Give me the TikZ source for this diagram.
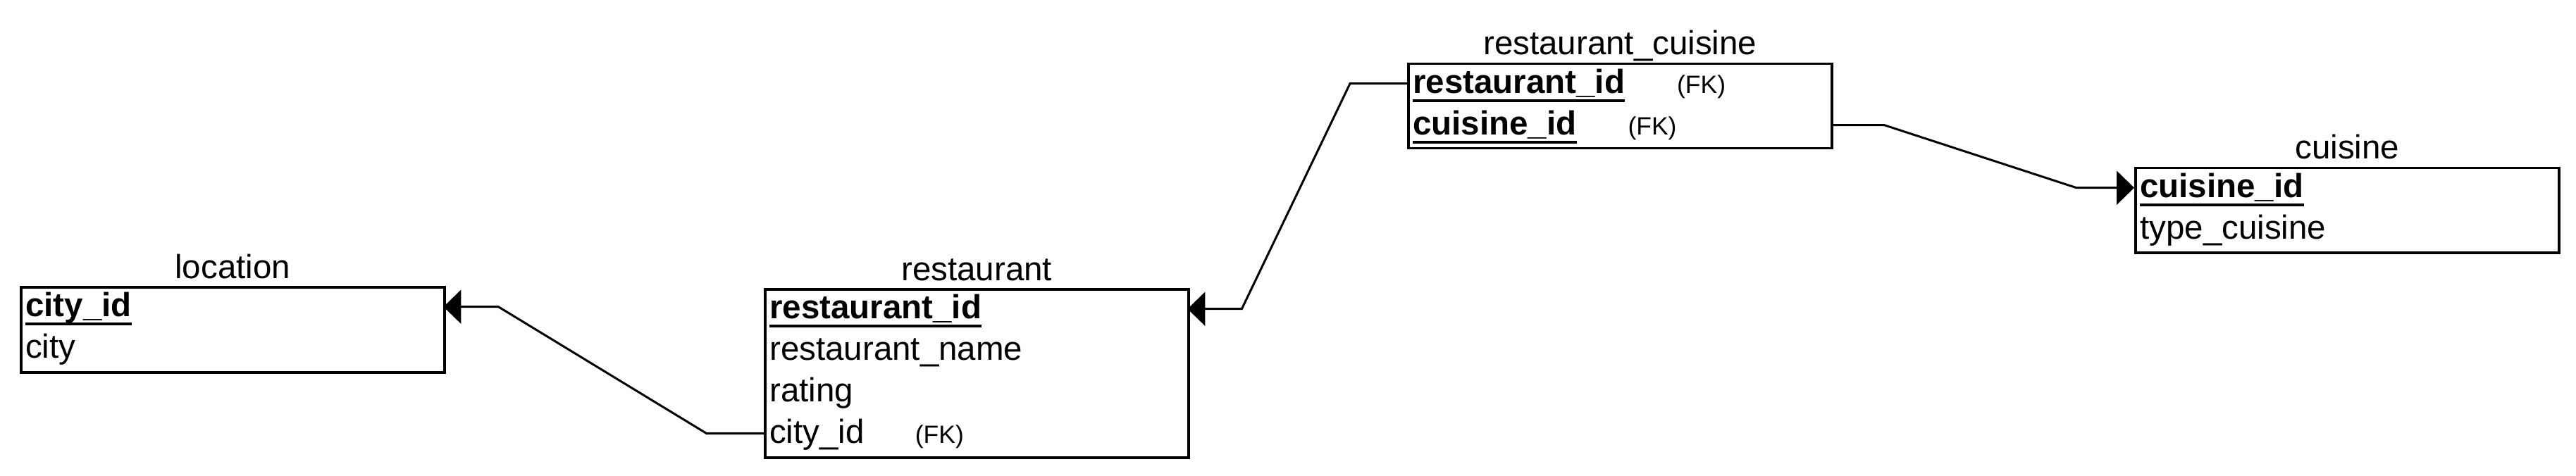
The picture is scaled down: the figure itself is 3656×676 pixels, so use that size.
\documentclass[tikz,border=0pt]{standalone}
\usepackage{fontspec}
\setmainfont{Liberation Sans}
\usetikzlibrary{arrows.meta,calc}
\newsavebox\pkbox
\newcommand\pkey[1]{\sbox\pkbox{\bfseries #1}\rlap{\usebox\pkbox}\rule[-12pt]{\wd\pkbox}{4pt}}
\newcommand\fkmark{{\fontsize{35.5}{40}\selectfont (FK)}}
\begin{document}
\begin{tikzpicture}[x=1pt,y=-1pt,
  tbl/.style={draw, line width=3.5pt, minimum width=601pt, inner sep=0pt, anchor=north west},
  fld/.style={inner xsep=8pt, inner ysep=0pt, text width=585pt, text height=43.5pt, text depth=15.5pt, align=left, anchor=north west, font=\fontsize{47.5}{57}\selectfont},
  ttl/.style={anchor=base, yshift=11pt, inner sep=0pt, font=\fontsize{47.5}{57}\selectfont},
  conn/.style={line width=3pt, -{Triangle[length=25pt,width=48pt]}}]
\useasboundingbox (0,0) rectangle (3656,676);
% location
\node[tbl, minimum height=121pt] (loc) at (28,406) {};
\node[ttl] (loc-t) at (loc.north) {location};
\node[fld] (loc-r1) at (28,406) {\pkey{city\_id}};
\node[fld] (loc-r2) at (28,465) {city};
% restaurant
\node[tbl, minimum height=239pt] (res) at (1084,409) {};
\node[ttl] (res-t) at (res.north) {restaurant};
\node[fld] (res-r1) at (1084,409) {\pkey{restaurant\_id}};
\node[fld] (res-r2) at (1084,468) {restaurant\_name};
\node[fld] (res-r3) at (1084,527) {rating};
\node[fld] (res-r4) at (1084,586) {city\_id\hspace{72pt}\fkmark};
% restaurant_cuisine
\node[tbl, minimum height=120pt] (rc) at (1997,89) {};
\node[ttl] (rc-t) at (rc.north) {restaurant\_cuisine};
\node[fld] (rc-r1) at (1997,89) {\pkey{restaurant\_id}\hspace{74pt}\fkmark};
\node[fld] (rc-r2) at (1997,148) {\pkey{cuisine\_id}\hspace{73pt}\fkmark};
% cuisine
\node[tbl, minimum height=120pt] (cui) at (3029,237) {};
\node[ttl] (cui-t) at (cui.north) {cuisine};
\node[fld] (cui-r1) at (3029,237) {\pkey{cuisine\_id}};
\node[fld] (cui-r2) at (3029,296) {type\_cuisine};
% connectors
\draw[conn] (res-r4.west) -- ++(-81,0) -- ($(loc-r1.east)+(78,0)$) -- (loc-r1.east);
\draw[conn] (rc-r1.west) -- ++(-81,0) -- ($(res-r1.east)+(77,0)$) -- (res-r1.east);
\draw[conn] (rc-r2.east) -- ++(76,0) -- ($(cui-r1.west)+(-82,0)$) -- (cui-r1.west);
\end{tikzpicture}
\end{document}
